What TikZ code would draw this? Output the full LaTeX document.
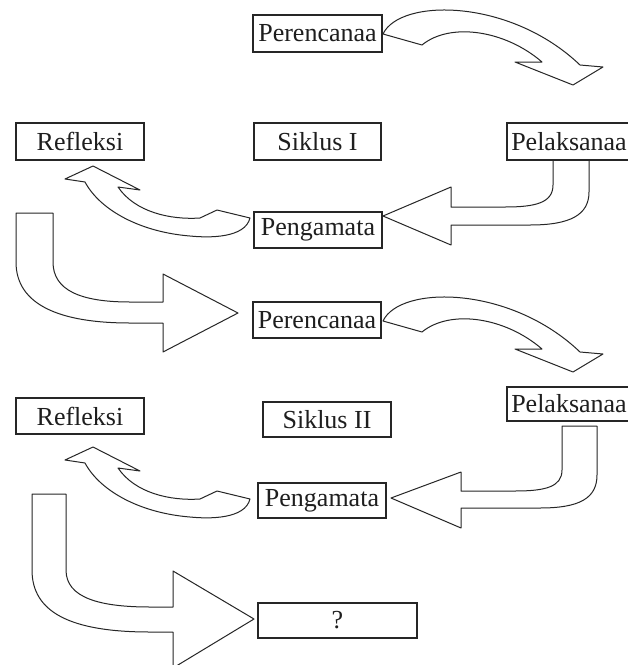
\documentclass[tikz,border=0pt]{standalone}
\usepackage{fontspec}
\setmainfont{Liberation Serif}
\definecolor{linec}{HTML}{262626}
\definecolor{textc}{HTML}{1E1E1E}
\begin{document}
\begin{tikzpicture}[x=1pt,y=-1pt,
  blockarrow/.style={draw=linec, fill=white, line width=1pt, line join=round},
  lbl/.style={draw=linec, fill=white, line width=1.1pt, inner sep=0pt, text=textc,
    font=\fontsize{26}{28}\selectfont, minimum height=36pt}]
\useasboundingbox (0,0) rectangle (628,665);
\fill[white] (0,0) rectangle (628,665);
\clip (0,0) rectangle (628,665);

% ---- curved arrows Perencanaa -> Pelaksanaa
\foreach \dy in {0,287}{
\draw[blockarrow, yshift=-\dy pt] (383,34) .. controls (400,-2) and (510,-2) .. (580,65)
  -- (603,67) -- (573,85) -- (515,62) -- (542,62)
  .. controls (505,30) and (450,22) .. (422,45) -- cycle;
}

% ---- bent arrow Pelaksanaa I -> Pengamata I
\draw[blockarrow] (553,160) -- (553,185) .. controls (553,203) and (535,207) .. (505,207)
  -- (451,207) -- (451,187) -- (383,216) -- (451,245) -- (451,225) -- (530,225)
  .. controls (570,225) and (589,215) .. (589,192) -- (589,160) -- cycle;

% ---- bent arrow Pelaksanaa II -> Pengamata II
\draw[blockarrow] (562,426) -- (562,470) .. controls (562,487) and (545,491) .. (515,491)
  -- (461,491) -- (461,472) -- (391,498) -- (461,528) -- (461,508) -- (540,508)
  .. controls (580,508) and (597,498) .. (597,475) -- (597,426) -- cycle;

% ---- curved arrows Pengamata -> Refleksi
\foreach \dy in {0,281}{
\draw[blockarrow, yshift=-\dy pt] (65,179) -- (93,166) -- (140,190) -- (118,187)
  .. controls (135,212) and (170,220) .. (200,218) -- (217,210) -- (250,218)
  .. controls (245,238) and (210,238) .. (190,236)
  .. controls (140,232) and (100,210) .. (85,182) -- cycle;
}

% ---- big arrow Refleksi I -> Perencanaa II
\draw[blockarrow] (16,213) -- (53,213) -- (53,262) .. controls (53,290) and (80,302) .. (130,302)
  -- (163,302) -- (163,274) -- (238,313) -- (163,352) -- (163,323) -- (130,323)
  .. controls (60,323) and (16,305) .. (16,262) -- cycle;

% ---- big arrow Refleksi II -> ?
\draw[blockarrow] (32,494) -- (66,494) -- (66,570) .. controls (66,598) and (100,607) .. (150,607)
  -- (173,607) -- (173,571) -- (254,619) -- (173,668) -- (173,632) -- (150,632)
  .. controls (70,632) and (32,612) .. (32,570) -- cycle;

% ---- boxes
\node[lbl, minimum width=129pt, minimum height=37pt] (p1) at (317.5,33.5) {Perencanaa};
\node[lbl, minimum width=128pt, minimum height=37pt] (r1) at (80,141.5) {Refleksi};
\node[lbl, minimum width=127pt, minimum height=37pt] (s1) at (317.5,141.5) {Siklus I};
\node[lbl, minimum width=124pt, minimum height=37pt] (l1) at (569,141.5) {Pelaksanaa};
\node[lbl, minimum width=128pt] (g1) at (318,230) {Pengamata};
\node[lbl, minimum width=128pt] (p2) at (317,320) {Perencanaa};
\node[lbl, minimum width=128pt] (r2) at (80,416) {Refleksi};
\node[lbl, minimum width=128pt, minimum height=35pt] (s2) at (327,419.5) {Siklus II};
\node[lbl, minimum width=124pt, minimum height=34pt] (l2) at (569,404) {Pelaksanaa};
\node[lbl, minimum width=128pt, minimum height=35pt] (g2) at (322,500.5) {Pengamata};
\node[lbl, minimum width=159pt, minimum height=35pt] (q) at (337.5,620.5) {?};
\end{tikzpicture}
\end{document}
